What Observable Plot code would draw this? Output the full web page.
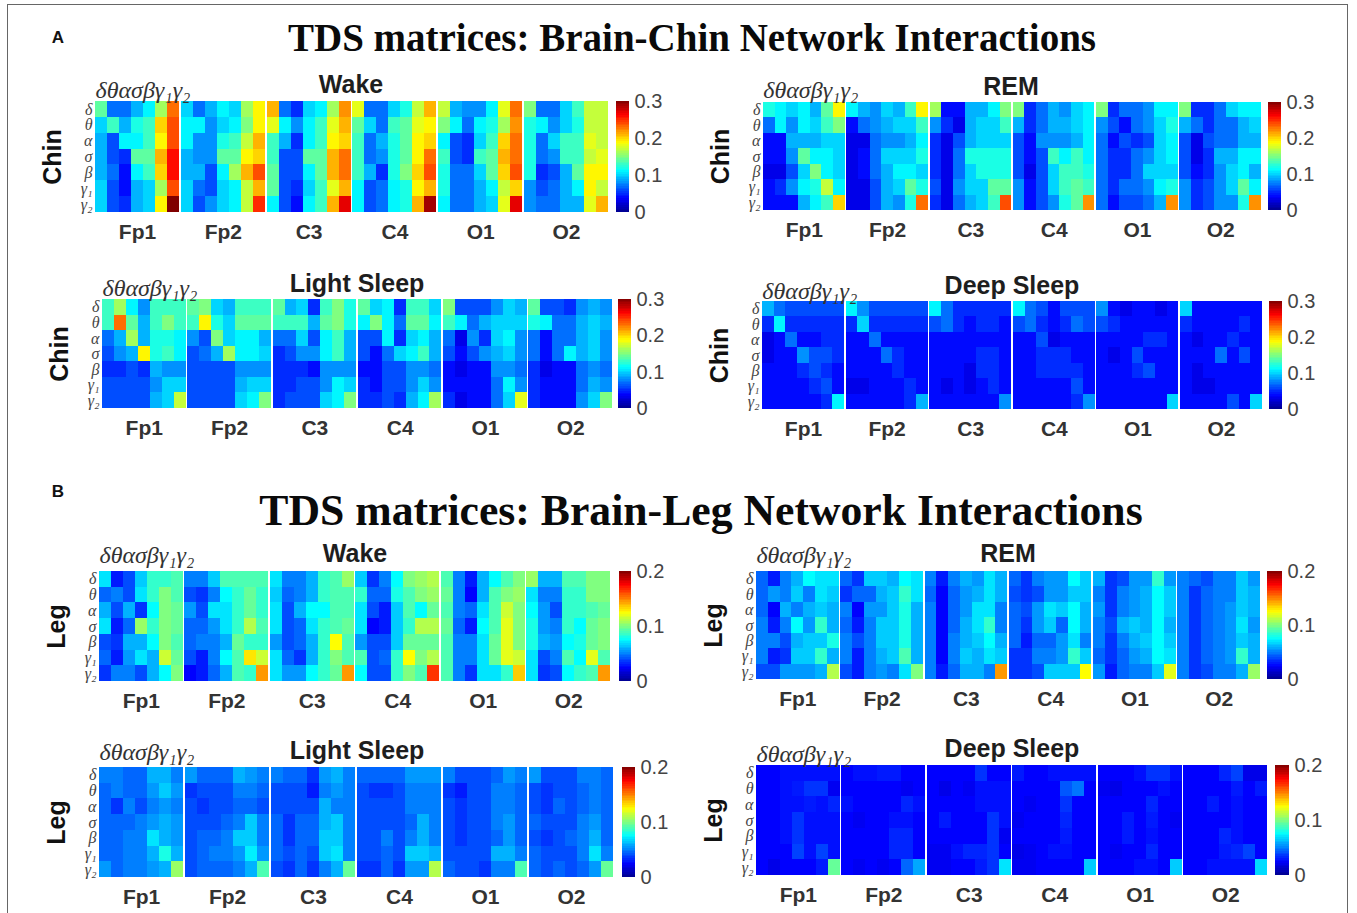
<!DOCTYPE html>
<html>
<head>
<meta charset="utf-8">
<script src="https://cdn.jsdelivr.net/npm/d3@7"></script>
<script src="https://cdn.jsdelivr.net/npm/@observablehq/plot@0.6"></script>
<style>
html,body{margin:0;padding:0;background:#fff}
#page{position:relative;width:1357px;height:913px;overflow:hidden;background:#fff}
#frame{position:absolute;left:7px;top:4px;width:1341px;height:920px;border:1.5px solid #666;box-sizing:border-box}
.t{position:absolute;white-space:nowrap;transform:translate(-50%,-50%);line-height:1}
.main{font-family:"Liberation Serif",serif;font-weight:700;color:#0a0a0a}
.sub{font-family:"Liberation Sans",sans-serif;font-weight:700;color:#1e1e1e;font-size:25px}
.tag{font-family:"Liberation Sans",sans-serif;font-weight:700;color:#111;font-size:17px}
svg{position:absolute;overflow:visible}
svg g[aria-label="cell"]{filter:blur(.7px)}
</style>
</head>
<body>
<div id="page"><div id="frame"></div></div>
<script>
const electrodes = ["Fp1","Fp2","C3","C4","O1","O2"];
const bands = ["δ","θ","α","σ","β","γ₁","γ₂"];
const bandString = "δθασβγ₁γ₂";

// Chin panels: hundredths
const chinWake = [
[[14,7,7,9,11,16,23],[10,13,9,12,13,20,24],[9,6,11,11,13,19,24],[9,6,5,14,14,21,26],[9,7,4,11,13,20,26],[10,6,4,9,10,16,24],[10,6,5,9,10,19,30]],
[[10,7,9,11,10,16,19],[11,11,8,10,11,15,19],[11,8,8,12,13,17,21],[9,8,8,14,14,19,20],[9,9,6,11,16,21,24],[10,7,6,10,11,17,21],[10,6,8,10,11,17,25]],
[[21,7,5,10,11,16,22],[18,11,8,11,13,18,21],[13,9,5,11,13,19,20],[13,6,6,14,14,21,23],[14,6,6,11,14,21,23],[14,6,5,10,13,18,21],[11,6,4,11,13,21,27]],
[[18,7,7,10,12,17,21],[14,10,7,13,14,18,19],[13,7,9,12,14,19,20],[13,7,8,12,14,19,23],[13,9,5,12,15,20,24],[11,6,7,11,12,19,21],[11,6,7,11,12,21,29]],
[[17,9,8,8,11,18,23],[15,11,7,11,12,16,22],[11,6,5,10,13,20,23],[13,6,5,13,14,21,23],[12,7,7,10,14,20,24],[12,7,7,9,11,17,20],[11,7,7,9,10,18,27]],
[[15,7,7,10,13,17,17],[12,11,8,10,12,17,17],[12,7,10,13,13,18,17],[12,7,8,13,13,17,18],[12,5,6,9,14,19,19],[8,6,7,9,11,19,17],[8,7,7,9,9,18,21]]
];
const chinRem = [
[[12,11,10,11,9,14,19],[7,11,8,11,10,13,15],[4,4,9,9,9,10,10],[4,4,8,14,11,11,10],[3,3,6,10,15,11,10],[4,5,8,11,12,17,11],[4,4,4,9,11,13,20]],
[[11,9,8,10,9,13,19],[4,7,8,9,10,10,13],[3,3,7,8,8,9,11],[3,4,7,10,10,10,12],[3,4,7,9,11,11,10],[3,3,6,9,10,14,12],[3,3,6,9,8,12,23]],
[[16,4,4,9,9,11,15],[8,5,3,9,10,10,13],[5,3,6,9,10,10,10],[5,3,7,12,12,12,12],[5,3,7,10,12,12,12],[6,3,8,10,10,14,14],[5,3,7,9,10,13,24]],
[[15,5,7,9,8,10,11],[9,5,7,9,9,10,11],[6,4,8,8,8,9,11],[6,4,6,13,11,13,11],[6,3,6,10,13,13,12],[8,4,6,10,13,14,13],[8,4,6,8,12,14,22]],
[[15,5,7,7,8,11,11],[8,6,4,7,8,10,12],[7,4,6,5,6,10,11],[7,5,5,7,8,10,11],[7,5,5,7,10,10,10],[7,5,7,7,8,11,12],[7,4,6,6,7,9,22]],
[[15,5,5,7,10,11,11],[9,7,5,7,7,9,10],[6,3,6,7,7,9,9],[6,3,5,9,9,11,11],[6,4,5,8,10,11,9],[8,5,6,8,10,14,11],[8,5,6,8,8,12,22]]
];
const chinLight = [
[[13,16,11,8,13,13,13],[13,23,14,9,13,15,13],[7,9,16,9,12,12,11],[6,8,9,19,12,13,11],[5,5,6,5,9,8,8],[6,6,6,6,8,10,10],[6,6,6,6,9,10,17]],
[[14,15,10,9,13,13,13],[13,19,12,10,14,14,14],[8,6,15,10,11,11,9],[6,7,9,16,11,11,10],[6,6,6,6,8,8,8],[6,6,6,6,9,10,10],[6,6,6,6,10,11,15]],
[[14,9,10,5,13,15,12],[13,13,13,9,14,15,12],[7,7,10,6,11,13,9],[5,6,8,8,11,13,9],[5,5,5,4,8,8,8],[5,5,6,6,8,11,10],[5,6,6,6,10,11,15]],
[[14,10,11,5,13,13,10],[11,15,11,7,14,14,11],[6,6,11,5,10,11,9],[6,4,7,10,11,13,9],[4,4,6,6,8,8,7],[5,4,6,6,8,10,8],[5,5,6,5,9,11,16]],
[[15,6,6,6,8,10,9],[13,11,7,9,10,10,10],[7,3,8,5,10,11,8],[6,4,6,8,9,10,8],[4,3,4,4,8,8,7],[4,4,4,4,7,11,8],[5,3,4,4,7,10,18]],
[[14,6,6,5,8,9,8],[12,11,7,7,9,10,9],[7,4,7,7,9,10,8],[7,4,7,11,9,10,8],[5,3,4,4,7,8,7],[5,4,4,4,7,9,8],[5,4,4,4,8,10,15]]
];
const chinDeep = [
[[9,7,6,6,6,6,6],[5,11,5,5,5,5,5],[3,4,7,4,4,5,5],[3,4,4,8,6,6,5],[4,4,4,5,6,5,4],[4,4,4,4,5,6,4],[4,4,4,4,4,5,11]],
[[11,8,6,6,6,6,6],[5,10,5,5,5,5,5],[4,4,7,4,4,4,4],[4,4,4,7,5,4,4],[4,4,4,4,5,4,4],[3,3,4,4,4,5,4],[4,4,4,4,4,5,9]],
[[11,7,5,5,5,5,5],[6,7,5,4,5,5,4],[4,4,4,4,4,4,4],[4,4,4,4,5,5,4],[4,4,4,3,5,5,4],[4,3,4,3,4,5,4],[4,4,4,4,4,4,8]],
[[11,7,6,4,6,6,6],[6,7,5,4,5,7,6],[4,4,6,3,4,4,4],[4,4,5,5,5,4,4],[4,4,5,5,5,5,4],[4,4,4,4,4,6,4],[4,4,4,4,4,5,8]],
[[8,4,3,4,4,3,4],[6,5,4,4,4,4,4],[4,4,4,4,5,5,4],[4,3,4,6,4,4,4],[4,4,4,5,6,4,4],[4,4,4,4,4,4,4],[4,4,4,4,4,4,10]],
[[10,4,4,4,4,4,4],[5,4,4,4,4,5,4],[4,3,4,4,5,4,4],[4,4,4,7,4,6,4],[4,3,4,4,4,4,4],[4,3,3,4,4,4,4],[4,4,4,4,6,4,10]]
];
// Leg panels: thousandths
const legWake = [
[[70,30,40,65,85,85,90],[45,50,40,70,85,100,90],[60,40,60,35,75,100,95],[70,30,45,105,85,100,95],[40,35,60,60,75,100,90],[45,30,55,70,60,115,95],[35,50,50,40,60,75,100]],
[[50,50,65,90,90,90,90],[40,35,50,75,85,95,85],[55,40,70,70,85,95,85],[45,45,55,70,85,110,90],[45,50,50,60,95,85,85],[40,30,50,75,90,130,115],[25,30,45,60,90,85,145]],
[[70,50,50,60,85,90,105],[65,45,50,60,85,90,90],[70,40,60,75,75,90,90],[70,40,45,70,85,90,95],[55,40,45,60,85,125,90],[70,45,35,60,85,100,90],[70,55,55,75,85,95,145]],
[[65,35,50,75,100,105,110],[85,45,45,80,90,100,105],[70,40,30,65,90,75,95],[70,25,30,65,85,110,110],[55,40,40,65,95,95,95],[90,40,45,85,125,100,110],[75,40,40,85,100,90,165]],
[[90,50,30,60,75,90,100],[95,50,25,60,90,100,105],[90,50,45,70,90,115,100],[95,45,30,75,90,120,100],[90,50,50,70,95,120,100],[90,50,50,70,95,120,115],[90,50,35,70,70,85,135]],
[[105,60,60,90,90,100,100],[70,50,50,85,85,100,100],[75,55,40,85,85,90,95],[80,55,50,85,75,95,100],[80,60,55,75,80,95,100],[70,40,50,90,75,120,90],[70,35,40,75,85,90,145]]
];
const legRem = [
[[45,30,50,60,75,70,70],[45,55,50,65,50,70,65],[45,25,60,50,60,65,60],[50,30,50,75,55,85,60],[50,50,40,60,65,65,80],[50,30,35,65,65,85,60],[40,40,55,55,55,60,110]],
[[45,35,65,65,60,75,70],[35,45,45,60,65,85,70],[50,25,55,55,65,80,60],[45,30,50,65,65,80,60],[50,40,50,65,65,80,60],[50,30,50,60,65,90,60],[40,30,50,55,50,70,100]],
[[50,30,50,60,55,70,60],[45,25,45,55,60,70,60],[50,25,45,55,70,70,50],[50,25,45,60,70,85,50],[50,25,50,60,65,75,60],[50,25,50,65,60,70,65],[50,30,45,60,60,50,145]],
[[45,35,50,55,55,75,65],[40,35,40,55,55,65,65],[45,40,55,70,65,75,60],[45,35,55,65,45,75,60],[45,30,45,45,55,70,50],[35,35,50,50,55,85,65],[35,35,40,65,65,65,125]],
[[60,35,40,55,55,85,55],[50,35,50,55,60,75,65],[55,35,50,55,60,75,65],[50,40,60,65,60,75,60],[50,35,50,60,65,75,65],[45,35,45,55,60,75,70],[55,30,45,50,50,65,120]],
[[50,45,40,50,50,65,55],[50,35,45,50,50,65,60],[50,35,45,50,55,65,60],[50,35,45,50,55,70,55],[50,35,45,50,55,65,60],[50,35,45,50,55,85,60],[50,35,40,50,50,60,105]]
];
const legLight = [
[[50,50,45,45,60,60,50],[45,50,45,45,55,65,55],[45,35,50,40,50,55,50],[45,45,45,50,55,60,55],[45,45,50,50,70,60,55],[45,45,50,50,60,80,60],[55,45,50,50,55,60,105]],
[[55,45,45,45,60,55,50],[35,40,40,40,50,50,45],[40,35,40,40,45,45,40],[40,40,40,45,50,65,50],[40,45,45,50,65,65,50],[40,45,50,50,55,72,55],[40,45,45,45,50,60,90]],
[[50,45,45,35,55,60,50],[40,40,40,30,50,55,50],[40,40,40,40,60,50,50],[45,35,45,45,60,65,50],[45,35,45,45,65,65,50],[45,40,45,40,65,70,50],[40,35,45,35,50,60,95]],
[[45,45,45,45,55,55,55],[40,35,35,40,50,50,50],[40,40,40,40,50,50,50],[40,40,40,40,45,60,50],[40,40,50,40,50,60,50],[40,40,45,40,65,65,60],[35,35,45,35,55,55,110]],
[[50,40,40,40,45,55,50],[35,30,40,40,50,50,45],[40,35,40,40,50,50,45],[40,35,40,40,50,55,45],[40,35,40,40,45,55,45],[40,40,40,40,60,60,50],[45,40,40,35,50,50,90]],
[[55,40,40,40,50,50,45],[40,35,40,40,45,50,45],[40,35,45,40,45,50,45],[45,40,40,40,50,55,45],[40,35,40,45,50,60,45],[45,40,40,40,50,70,50],[45,40,45,40,45,55,95]]
];
const legDeep = [
[[25,25,28,28,28,28,28],[25,25,28,30,35,35,22],[25,25,28,28,30,28,32],[25,25,28,35,28,28,28],[25,25,28,35,28,28,28],[25,25,25,38,28,38,28],[25,20,25,25,25,30,95]],
[[25,28,28,30,30,25,25],[25,25,25,25,25,22,25],[28,25,25,25,25,32,28],[25,22,25,25,28,28,25],[25,25,25,25,32,32,25],[25,25,25,25,32,32,25],[25,22,25,22,25,45,58]],
[[25,25,25,25,35,25,25],[25,20,25,22,28,28,28],[25,25,25,25,28,28,28],[25,30,25,25,25,35,28],[25,25,25,25,25,35,22],[22,22,28,32,32,35,25],[22,22,25,25,30,35,70]],
[[30,25,25,28,28,28,28],[25,25,25,25,42,48,25],[25,22,25,25,35,25,25],[22,25,25,25,32,25,25],[25,25,25,25,30,25,25],[20,22,25,28,28,25,25],[22,22,25,25,25,25,65]],
[[25,25,25,28,35,35,28],[22,20,25,25,25,28,25],[25,25,25,25,32,25,25],[25,25,30,25,30,25,22],[25,25,30,25,28,25,25],[25,22,25,25,32,25,25],[25,25,25,28,28,25,65]],
[[25,25,25,32,38,20,20],[25,25,25,25,30,25,30],[25,25,30,25,28,25,25],[25,25,25,25,28,25,25],[25,25,25,32,28,25,25],[25,25,25,30,32,38,25],[25,25,28,28,28,28,68]]
];

const jetColors = ["#00008f","#0000ff","#00ffff","#ffff00","#ff0000","#800000"];
const jetStops = [0,.125,.375,.625,.875,1];

const panels = [
 {values:chinWake, unit:.01,  max:.3, ticks:[0,.1,.2,.3], name:"Chin", title:"Wake",        tx:351,  ty:84,  sy:-11, x1:95,  x2:608,  y1:101, y2:212, cx1:616,  cx2:629},
 {values:chinRem,  unit:.01,  max:.3, ticks:[0,.1,.2,.3], name:"Chin", title:"REM",         tx:1011, ty:86,  sy:-12, x1:763, x2:1261, y1:102, y2:210, cx1:1268, cx2:1281},
 {values:chinLight,unit:.01,  max:.3, ticks:[0,.1,.2,.3], name:"Chin", title:"Light Sleep", tx:357,  ty:283, sy:-11, x1:102, x2:612,  y1:299, y2:408, cx1:618,  cx2:631},
 {values:chinDeep, unit:.01,  max:.3, ticks:[0,.1,.2,.3], name:"Chin", title:"Deep Sleep",  tx:1012, ty:285, sy:-10, x1:762, x2:1262, y1:301, y2:409, cx1:1269, cx2:1282},
 {values:legWake,  unit:.001, max:.2, ticks:[0,.1,.2],    name:"Leg",  title:"Wake",        tx:355,  ty:553, sy:-16, x1:99,  x2:610,  y1:571, y2:681, cx1:619,  cx2:631},
 {values:legRem,   unit:.001, max:.2, ticks:[0,.1,.2],    name:"Leg",  title:"REM",         tx:1008, ty:553, sy:-16, x1:756, x2:1260, y1:571, y2:679, cx1:1267, cx2:1282},
 {values:legLight, unit:.001, max:.2, ticks:[0,.1,.2],    name:"Leg",  title:"Light Sleep", tx:357,  ty:750, sy:-15, x1:99,  x2:613,  y1:767, y2:877, cx1:622,  cx2:635},
 {values:legDeep,  unit:.001, max:.2, ticks:[0,.1,.2],    name:"Leg",  title:"Deep Sleep",  tx:1012, ty:748, sy:-11, x1:756, x2:1267, y1:765, y2:875, cx1:1275, cx2:1289}
];

const page = document.getElementById("page");
function label(text, cls, x, y, size){
  const d = document.createElement("div");
  d.className = "t " + cls; d.textContent = text;
  d.style.left = x + "px"; d.style.top = y + "px";
  if (size) d.style.fontSize = size + "px";
  page.appendChild(d);
}
label("TDS matrices: Brain-Chin Network Interactions","main",692,37,39);
label("TDS matrices: Brain-Leg Network Interactions","main",701,511,43.7);
label("A","tag",58,37);
label("B","tag",58,491);

const ml = 62, mt = 30, mb = 36;
for (const p of panels) {
  const color = {type:"linear", domain: jetStops.map(s => s * p.max), range: jetColors, interpolate:"rgb"};
  const rows = [];
  p.values.forEach((m,e) => m.forEach((r,i) => r.forEach((v,j) =>
    rows.push({e:electrodes[e], row:bands[i], col:bands[j], v:v*p.unit}))));
  const heat = Plot.plot({
    width: p.x2-p.x1+ml, height: p.y2-p.y1+mt+mb,
    marginLeft: ml, marginRight: 0, marginTop: mt, marginBottom: mb,
    style:{background:"transparent", overflow:"visible"},
    fx:{domain:electrodes, paddingInner:.02, paddingOuter:0, round:false, label:null, axis:null},
    x:{domain:bands, padding:0, round:false, axis:null},
    y:{domain:bands, padding:0, round:false, axis:null},
    color,
    marks:[
      Plot.cell(rows,{fx:"e", x:"col", y:"row", fill:"v", shapeRendering:"crispEdges"}),
      Plot.axisFx({anchor:"bottom", label:null, tickSize:0, tickPadding:12, fontSize:21, fontWeight:700, fontFamily:"Liberation Sans", fill:"#333"}),
      Plot.axisY({anchor:"left", label:null, tickSize:0, tickPadding:3, fontSize:16, fontStyle:"italic", fontFamily:"Liberation Serif", fill:"#444"}),
      Plot.text([p.name],{fx:()=>"Fp1", frameAnchor:"left", textAnchor:"middle", dx:-43, rotate:-90, fontSize:25, fontWeight:700, fontFamily:"Liberation Sans", fill:"#111"}),
      Plot.text([bandString],{fx:()=>"Fp1", x:()=>"δ", frameAnchor:"top", lineAnchor:"middle", textAnchor:"start", dx:-6, dy:p.sy, fontSize:24, fontStyle:"italic", fontFamily:"Liberation Serif", fill:"#333"})
    ]
  });
  heat.style.left = (p.x1-ml) + "px";
  heat.style.top = (p.y1-mt) + "px";
  page.appendChild(heat);

  const steps = d3.range(64).map(i => ({lo:i/64*p.max, hi:(i+1)/64*p.max, mid:(i+.5)/64*p.max}));
  const bar = Plot.plot({
    width: p.cx2-p.cx1+40, height: p.y2-p.y1+20,
    marginLeft: 0, marginRight: 40, marginTop: 10, marginBottom: 10,
    style:{background:"transparent", overflow:"visible"},
    x:{domain:[0,1], axis:null},
    y:{domain:[0,p.max], axis:null},
    color,
    marks:[
      Plot.rect(steps,{x1:0, x2:1, y1:"lo", y2:"hi", fill:"mid", shapeRendering:"crispEdges"}),
      Plot.axisY({anchor:"right", ticks:p.ticks, tickFormat:d=>String(d), label:null, tickSize:0, tickPadding:5, fontSize:20, fontFamily:"Liberation Sans", fill:"#444"})
    ]
  });
  bar.style.left = p.cx1 + "px";
  bar.style.top = (p.y1-10) + "px";
  page.appendChild(bar);

  label(p.title,"sub",p.tx,p.ty);
}
</script>
</body>
</html>
